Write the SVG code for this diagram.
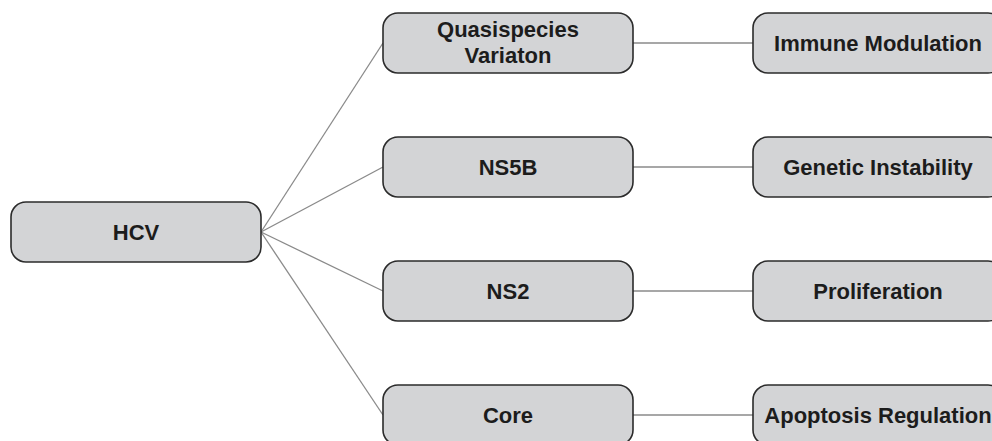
<svg xmlns="http://www.w3.org/2000/svg" width="992" height="441" viewBox="0 0 992 441">
  <style>
    .box { fill: #d3d4d6; stroke: #2b2b2b; stroke-width: 1.6; }
    .label { font-family: "Liberation Sans", Arial, sans-serif; font-weight: bold; font-size: 22px; fill: #1c1c1c; text-anchor: middle; }
    .link { stroke: #8a8a8a; stroke-width: 1.3; fill: none; }
  </style>
  <rect width="992" height="441" fill="#ffffff"/>

  <g id="connectors">
    <line class="link" x1="261" y1="232" x2="383" y2="43"/>
    <line class="link" x1="261" y1="232" x2="383" y2="167"/>
    <line class="link" x1="261" y1="232" x2="383" y2="291"/>
    <line class="link" x1="261" y1="232" x2="383" y2="415"/>
    <line class="link" x1="633" y1="43" x2="753" y2="43"/>
    <line class="link" x1="633" y1="167" x2="753" y2="167"/>
    <line class="link" x1="633" y1="291" x2="753" y2="291"/>
    <line class="link" x1="633" y1="415" x2="753" y2="415"/>
  </g>

  <g id="hcv">
    <rect class="box" x="11" y="202" width="250" height="60" rx="15"/>
    <text class="label" x="136" y="240">HCV</text>
  </g>

  <g id="quasispecies">
    <rect class="box" x="383" y="13" width="250" height="60" rx="15"/>
    <text class="label" x="508" y="37">Quasispecies</text>
    <text class="label" x="508" y="63">Variaton</text>
  </g>
  <g id="ns5b">
    <rect class="box" x="383" y="137" width="250" height="60" rx="15"/>
    <text class="label" x="508" y="175">NS5B</text>
  </g>
  <g id="ns2">
    <rect class="box" x="383" y="261" width="250" height="60" rx="15"/>
    <text class="label" x="508" y="299">NS2</text>
  </g>
  <g id="core">
    <rect class="box" x="383" y="385" width="250" height="60" rx="15"/>
    <text class="label" x="508" y="423">Core</text>
  </g>

  <g id="immune-modulation">
    <rect class="box" x="753" y="13" width="250" height="60" rx="15"/>
    <text class="label" x="878" y="51">Immune Modulation</text>
  </g>
  <g id="genetic-instability">
    <rect class="box" x="753" y="137" width="250" height="60" rx="15"/>
    <text class="label" x="878" y="175">Genetic Instability</text>
  </g>
  <g id="proliferation">
    <rect class="box" x="753" y="261" width="250" height="60" rx="15"/>
    <text class="label" x="878" y="299">Proliferation</text>
  </g>
  <g id="apoptosis-regulation">
    <rect class="box" x="753" y="385" width="250" height="60" rx="15"/>
    <text class="label" x="878" y="423">Apoptosis Regulation</text>
  </g>
</svg>
